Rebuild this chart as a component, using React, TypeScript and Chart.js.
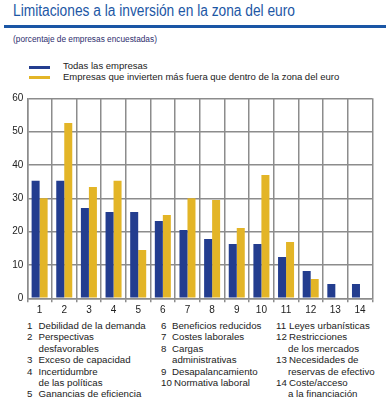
import React, { useEffect, useLayoutEffect, useRef } from "react";
import { Chart, registerables } from "chart.js";

Chart.register(...registerables);

const categories = ["1", "2", "3", "4", "5", "6", "7", "8", "9", "10", "11", "12", "13", "14"];
const todasValues = [35.3, 35.3, 27.1, 25.9, 25.9, 23.2, 20.5, 17.8, 16.3, 16.3, 12.4, 8.2, 4.3, 4.3];
const fueraValues = [30.0, 52.6, 33.4, 35.3, 14.5, 25.0, 30.0, 29.5, 21.1, 37.0, 16.9, 5.8, 0, 0];
const seriesNames = ["Todas las empresas", "Empresas que invierten más fuera que dentro de la zona del euro"];
const yTicks = [0, 10, 20, 30, 40, 50, 60];

const footCol1 = [
  ["1", "Debilidad de la demanda"],
  ["2", "Perspectivas"],
  ["", "desfavorables"],
  ["3", "Exceso de capacidad"],
  ["4", "Incertidumbre"],
  ["", "de las políticas"],
  ["5", "Ganancias de eficiencia"],
];
const footCol2 = [
  ["6", "Beneficios reducidos"],
  ["7", "Costes laborales"],
  ["8", "Cargas"],
  ["", "administrativas"],
  ["9", "Desapalancamiento"],
  ["10", "Normativa laboral"],
];
const footCol3 = [
  ["11", "Leyes urbanísticas"],
  ["12", "Restricciones"],
  ["", "de los mercados"],
  ["13", "Necesidades de"],
  ["", "reservas de efectivo"],
  ["14", "Coste/acceso"],
  ["", "a la financiación"],
];

const BLUE = "#233d8f";
const YELLOW = "#e3b527";
const GRID = "#8c8c8c";
const FONT = "'Liberation Sans', Arial, sans-serif";

function FootColumn({ rows, left, numWidth, gap }: { rows: string[][]; left: number; numWidth: number; gap: number }) {
  return (
    <div style={{ position: "absolute", left, top: 320, fontSize: 9.7, lineHeight: "11.4px", color: "#222" }}>
      {rows.map((r, i) => (
        <div key={i} style={{ display: "flex", whiteSpace: "nowrap" }}>
          <span style={{ minWidth: numWidth, paddingRight: r[0].length > 1 ? gap : 0, display: "inline-block" }}>{r[0]}</span>
          <span>{r[1]}</span>
        </div>
      ))}
    </div>
  );
}

export default function App() {
  const ref = useRef<HTMLCanvasElement | null>(null);
  const titleRef = useRef<HTMLSpanElement | null>(null);

  useLayoutEffect(() => {
    const el = titleRef.current;
    if (!el) return;
    const w = el.getBoundingClientRect().width;
    if (w > 0) el.style.transform = `scaleX(${282 / w})`;
  }, []);

  useEffect(() => {
    if (!ref.current) return;
    const chart = new Chart(ref.current, {
      type: "bar",
      data: {
        labels: categories,
        datasets: [
          { label: seriesNames[0], data: todasValues, backgroundColor: BLUE, borderWidth: 0 },
          { label: seriesNames[1], data: fueraValues, backgroundColor: YELLOW, borderWidth: 0 },
        ],
      },
      options: {
        responsive: false,
        animation: false,
        devicePixelRatio: 1,
        layout: { padding: { top: 10.3, right: 17.7, left: 0, bottom: 0 } },
        datasets: { bar: { categoryPercentage: 0.65, barPercentage: 1.0 } },
        plugins: { legend: { display: false }, tooltip: { enabled: false }, title: { display: false } },
        scales: {
          x: {
            grid: { color: GRID, lineWidth: 1.5, offset: true, drawTicks: true, tickLength: 4 },
            border: { color: GRID, width: 1.5 },
            ticks: { color: "#222", font: { family: FONT, size: 10 }, padding: 2, maxRotation: 0, autoSkip: false },
            afterFit: (s: any) => { s.height = 19.7; },
          },
          y: {
            min: 0,
            max: 60,
            afterBuildTicks: (s: any) => { s.ticks = yTicks.map((v) => ({ value: v })); },
            grid: { color: GRID, lineWidth: 1.5, drawTicks: false },
            border: { color: GRID, width: 1.5 },
            ticks: { color: "#222", font: { family: FONT, size: 10 }, padding: 4 },
            afterFit: (s: any) => { s.width = 27.3; },
          },
        },
      },
    });
    return () => chart.destroy();
  }, []);

  return (
    <div style={{ position: "absolute", left: 0, top: 0, width: 390, height: 401, fontFamily: FONT, background: "#fff", overflow: "hidden" }}>
      <span
        ref={titleRef}
        style={{ position: "absolute", left: 13.3, top: 1, fontSize: 16, lineHeight: "20px", color: "#1d57a5", whiteSpace: "nowrap", display: "inline-block", transformOrigin: "0 0" }}
      >
        Limitaciones a la inversión en la zona del euro
      </span>
      <div style={{ position: "absolute", left: 4, top: 25, width: 382, height: 3, background: "#1a56a5" }} />
      <div style={{ position: "absolute", left: 13, top: 34, fontSize: 8.3, color: "#2e2e6e", whiteSpace: "nowrap" }}>
        (porcentaje de empresas encuestadas)
      </div>
      <div style={{ position: "absolute", left: 29, top: 65.5, width: 21, height: 3, background: BLUE }} />
      <div style={{ position: "absolute", left: 29, top: 76, width: 21, height: 3, background: YELLOW }} />
      <div style={{ position: "absolute", left: 63, top: 60, fontSize: 9.5, lineHeight: "11px", color: "#222", whiteSpace: "nowrap" }}>
        <div>{seriesNames[0]}</div>
        <div>{seriesNames[1]}</div>
      </div>
      <canvas ref={ref} width={390} height={230} style={{ position: "absolute", left: 0, top: 88, width: 390, height: 230 }} />
      <FootColumn rows={footCol1} left={27} numWidth={11.5} gap={1.5} />
      <FootColumn rows={footCol2} left={161} numWidth={11} gap={2} />
      <FootColumn rows={footCol3} left={276} numWidth={12} gap={1} />
    </div>
  );
}
